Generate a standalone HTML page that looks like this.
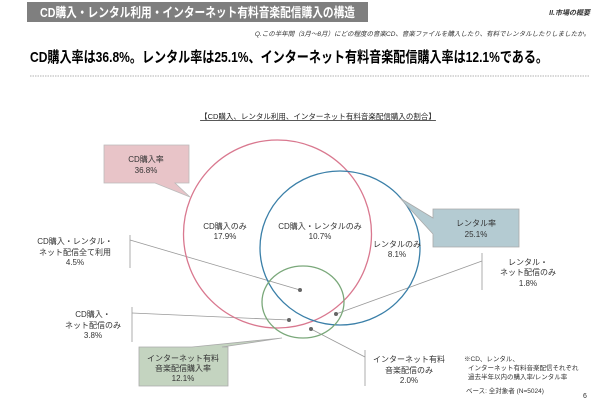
<!DOCTYPE html>
<html><head><meta charset="utf-8"><style>
html,body{margin:0;padding:0;background:#fff;}
svg{display:block;font-family:"Liberation Sans","Noto Sans CJK JP",sans-serif;}
</style></head><body>
<svg width="610" height="400" viewBox="0 0 610 400" xmlns="http://www.w3.org/2000/svg">
<rect x="27" y="2" width="341" height="20" fill="#7f7f7f"/>
<text x="40" y="17" font-size="13" font-weight="bold" fill="#fff" textLength="315" lengthAdjust="spacingAndGlyphs">CD購入・レンタル利用・インターネット有料音楽配信購入の構造</text>
<text x="590" y="15" font-size="7" font-style="italic" font-weight="bold" fill="#333" text-anchor="end">II.市場の概要</text>
<text x="590" y="36" font-size="6.5" font-style="italic" fill="#333" text-anchor="end">Q.この半年間（3月～8月）にどの程度の音楽CD、音楽ファイルを購入したり、有料でレンタルしたりしましたか。</text>
<text x="30" y="62" font-size="15" font-weight="bold" fill="#000" textLength="518" lengthAdjust="spacingAndGlyphs">CD購入率は36.8%。レンタル率は25.1%、インターネット有料音楽配信購入率は12.1%である。</text>
<line x1="30" y1="76" x2="590" y2="76" stroke="#999" stroke-width="0.8" stroke-dasharray="1.5,1"/>
<text x="318" y="119" font-size="7.5" fill="#222" text-anchor="middle" text-decoration="underline">【CD購入、レンタル利用、インターネット有料音楽配信購入の割合】</text>
<g stroke="#999" stroke-width="0.8" fill="none">
<line x1="130" y1="235" x2="130" y2="268"/><line x1="130" y1="240" x2="300" y2="290"/>
<line x1="132" y1="307" x2="132" y2="342"/><line x1="132" y1="313" x2="289" y2="320"/>
<line x1="482" y1="253" x2="482" y2="290"/><line x1="482" y1="261" x2="336" y2="314"/>
<line x1="365" y1="350" x2="365" y2="386"/><line x1="365" y1="357" x2="311" y2="329"/>
</g>
<circle cx="277.5" cy="234" r="94" fill="none" stroke="#d9788f" stroke-width="1.3"/>
<ellipse cx="340" cy="248" rx="80" ry="77" fill="none" stroke="#3a7fa8" stroke-width="1.3"/>
<ellipse cx="303" cy="302" rx="41" ry="36" fill="none" stroke="#7aa87a" stroke-width="1.3"/>
<g fill="#666"><circle cx="300" cy="290" r="2"/><circle cx="289" cy="320" r="2"/><circle cx="336" cy="314" r="2"/><circle cx="311" cy="329" r="2"/></g>
<path d="M104,145 H189 V183 H175 L190,197 L155,183 H104 Z" fill="#e8c4c8" stroke="#bbb" stroke-width="0.8"/>
<path d="M433,209 H519 V247 H433 V234 L400,198 L433,218 Z" fill="#b4cbd2" stroke="#aaa" stroke-width="0.8"/>
<path d="M139,347 H192 L282,338 L222,347 H228 V386 H139 Z" fill="#c4d4c0" stroke="#aaa" stroke-width="0.8"/>
<g font-size="8" fill="#333" text-anchor="middle">
<text x="146" y="162">CD購入率</text><text x="146" y="173">36.8%</text>
<text x="476" y="226">レンタル率</text><text x="476" y="237">25.1%</text>
<text x="183" y="361">インターネット有料</text><text x="183" y="371">音楽配信購入率</text><text x="183" y="381">12.1%</text>
<text x="225" y="229">CD購入のみ</text><text x="225" y="239">17.9%</text>
<text x="320" y="229">CD購入・レンタルのみ</text><text x="320" y="239">10.7%</text>
<text x="397" y="247">レンタルのみ</text><text x="397" y="257">8.1%</text>
<text x="75" y="244">CD購入・レンタル・</text><text x="75" y="255">ネット配信全て利用</text><text x="75" y="265">4.5%</text>
<text x="93" y="317">CD購入・</text><text x="93" y="328">ネット配信のみ</text><text x="93" y="338">3.8%</text>
<text x="528" y="265">レンタル・</text><text x="528" y="275">ネット配信のみ</text><text x="528" y="286">1.8%</text>
<text x="409" y="362">インターネット有料</text><text x="409" y="373">音楽配信のみ</text><text x="409" y="383">2.0%</text>
</g>
<g font-size="6.5" fill="#333">
<text x="464" y="361">※CD、レンタル、</text>
<text x="468" y="370">インターネット有料音楽配信それぞれ</text>
<text x="468" y="379">過去半年以内の購入率/レンタル率</text>
<text x="466" y="393">ベース: 全対象者 (N=5024)</text>
</g>
<text x="583" y="398" font-size="7" fill="#333">6</text>
</svg>
</body></html>
